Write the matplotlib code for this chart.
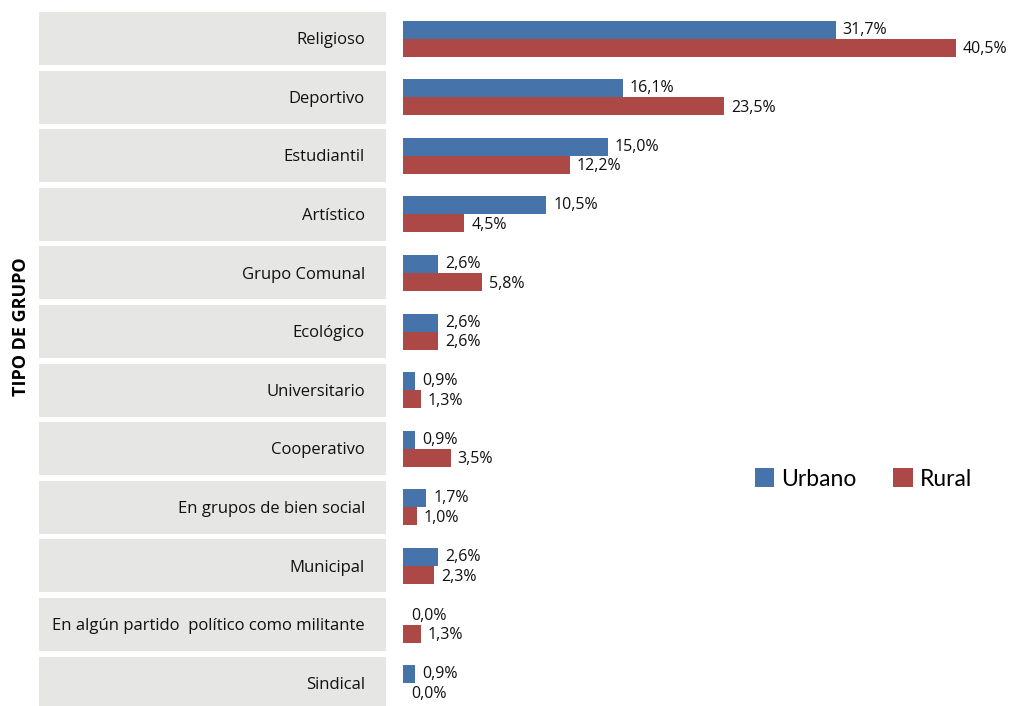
import matplotlib.pyplot as plt
from matplotlib.patches import Rectangle
from matplotlib.transforms import blended_transform_factory

# datos
grupos = ['Religioso', 'Deportivo', 'Estudiantil', 'Artístico', 'Grupo Comunal',
          'Ecológico', 'Universitario', 'Cooperativo', 'En grupos de bien social',
          'Municipal', 'En algún partido  político como militante', 'Sindical']
urbano = [31.7, 16.1, 15.0, 10.5, 2.6, 2.6, 0.9, 0.9, 1.7, 2.6, 0.0, 0.9]
rural = [40.5, 23.5, 12.2, 4.5, 5.8, 2.6, 1.3, 3.5, 1.0, 2.3, 1.3, 0.0]

azul = '#4673A9'
rojo = '#AC4846'
gris = '#E6E6E5'
fuente = 'Open Sans'

W, H = 1011, 706
fig = plt.figure(figsize=(W / 100, H / 100), dpi=100)

# eje de barras: fila i centrada en pixel 38.5 + 58.6*i
paso = 58.6
y_top = 38.5 - paso / 2
y_bot = 38.5 + paso * 11.5
x0 = 403
escala = 13.65  # px por %
ax = fig.add_axes([x0 / W, 1 - y_bot / H, (W - x0) / W, (y_bot - y_top) / H])
ax.set_xlim(0, (W - x0) / escala)
ax.set_ylim(11.5, -0.5)
ax.axis('off')

h = 18 / paso
pos = list(range(len(grupos)))
ax.barh([p - h / 2 for p in pos], urbano, height=h, color=azul, label='Urbano')
ax.barh([p + h / 2 for p in pos], rural, height=h, color=rojo, label='Rural')

off = 7 / escala
for p, u, r in zip(pos, urbano, rural):
    ax.text(u + off if u > 0 else 0.6, p - h / 2, f'{u:.1f}%'.replace('.', ','),
            va='center', ha='left', fontsize=11.5, family=fuente, color='#111111')
    ax.text(r + off if r > 0 else 0.6, p + h / 2 + 0.03, f'{r:.1f}%'.replace('.', ','),
            va='center', ha='left', fontsize=11.5, family=fuente, color='#111111')

# cajas grises con etiquetas
tr = blended_transform_factory(fig.transFigure, ax.transData)
alto = 53 / paso
for p, g in zip(pos, grupos):
    ax.add_patch(Rectangle((39 / W, p - alto / 2), (386 - 39) / W, alto,
                           transform=tr, facecolor=gris, edgecolor='none', clip_on=False))
    ax.text(365 / W, p + 0.03, g, transform=tr, ha='right', va='center',
            fontsize=12, family=fuente, color='#111111')

fig.text(21 / W, 1 - 327 / H, 'TIPO DE GRUPO', rotation=90, ha='center', va='center',
         fontsize=13, fontweight='bold', family=fuente)

leg = fig.legend(loc='center left', bbox_to_anchor=(734 / W, 1 - 479 / H), ncol=2,
                 frameon=False, prop={'family': 'Lato', 'size': 16.5},
                 handlelength=0.85, handleheight=0.85, handletextpad=0.3,
                 columnspacing=1.6)

fig.savefig('out.png', dpi=100)
